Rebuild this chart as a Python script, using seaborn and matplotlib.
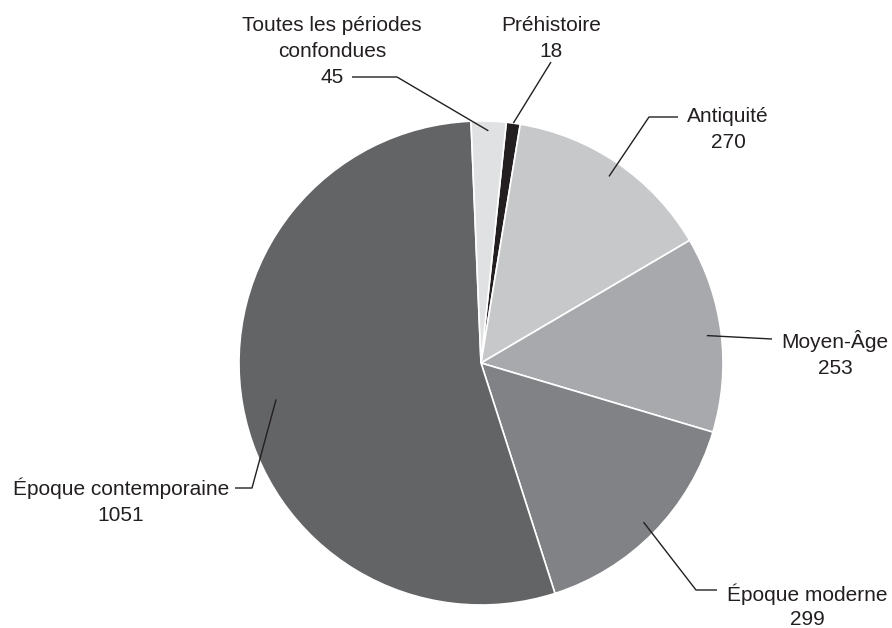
import matplotlib
matplotlib.use("Agg")
import matplotlib.pyplot as plt
import numpy as np
import seaborn as sns

# periods in clockwise order starting just right of the top
periods = ["Préhistoire", "Antiquité", "Moyen-Âge", "Époque moderne",
           "Époque contemporaine", "Toutes les périodes confondues"]
counts = [18, 270, 253, 299, 1051, 45]
greys = ["#231f20", "#c7c8ca", "#a7a9ac", "#808285", "#636466", "#e0e1e2"]

# label text lines for each slice
label_lines = [
    ["Préhistoire", "18"],
    ["Antiquité", "270"],
    ["Moyen-Âge", "253"],
    ["Époque moderne", "299"],
    ["Époque contemporaine", "1051"],
    ["Toutes les périodes", "confondues", "45"],
]

sns.set_theme(style="white")
plt.rcParams["font.family"] = ["Liberation Sans", "DejaVu Sans"]

W, H = 892, 628
cx, cy, R = 481, H - 363, 242

fig = plt.figure(figsize=(W / 100, H / 100), dpi=100)
ax = fig.add_axes([0, 0, 1, 1])
wedges, _ = ax.pie(counts, colors=greys, startangle=84, counterclock=False,
                   center=(cx, cy), radius=R,
                   wedgeprops=dict(edgecolor="white", linewidth=1.2))
ax.set_xlim(0, W)
ax.set_ylim(0, H)
ax.set_aspect("equal")
ax.axis("off")

# label placement (pixel coords, y from top): text centre x, baselines,
# leader points on the text side, and how deep the leader goes into the slice
layout = [
    dict(x=551, base=[31, 57], path=[(551, 62)], depth=1.0),
    dict(x=728, base=[122, 148], path=[(678, 117), (649, 117)], depth=0.935),
    dict(x=835, base=[348, 374], path=[(772, 339)], depth=0.94),
    dict(x=807, base=[601, 625], path=[(717, 590), (696, 590)], depth=0.94),
    dict(x=121, base=[495, 521], path=[(235, 488), (252, 488)], depth=0.86),
    dict(x=332, base=[31, 57, 83], path=[(352, 77), (397, 77)], depth=0.96),
]

text_col = "#231f20"
for w, lines, lay in zip(wedges, label_lines, layout):
    for txt, b in zip(lines, lay["base"]):
        ax.text(lay["x"], H - b, txt, ha="center", va="baseline",
                fontsize=15, color=text_col)
    # leader line ends inside the slice, along its middle angle
    mid = np.deg2rad((w.theta1 + w.theta2) / 2)
    end_x = cx + lay["depth"] * R * np.cos(mid)
    end_y = cy + lay["depth"] * R * np.sin(mid)
    xs = [p[0] for p in lay["path"]] + [end_x]
    ys = [H - p[1] for p in lay["path"]] + [end_y]
    ax.plot(xs, ys, color=text_col, lw=1.0, solid_capstyle="butt")

fig.savefig("out.png", dpi=100)
